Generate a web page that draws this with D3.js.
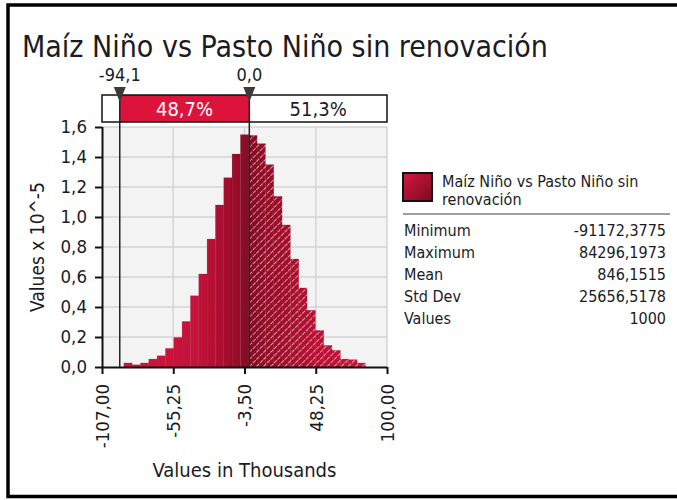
<!DOCTYPE html>
<html>
<head>
<meta charset="utf-8">
<script src="https://cdn.jsdelivr.net/npm/d3@7/dist/d3.min.js"></script>
<style>
  html, body { margin: 0; padding: 0; background: #fff; }
  svg { display: block; }
  text { font-family: "DejaVu Sans Condensed", "DejaVu Sans", sans-serif; fill: #1b1b24; }
</style>
</head>
<body>
<svg id="chart" width="677" height="500"></svg>
<script>
// Simulation output: Maíz Niño vs Pasto Niño sin renovación (values in thousands)
const title = "Maíz Niño vs Pasto Niño sin renovación";
const seriesName = ["Maíz Niño vs Pasto Niño sin", "renovación"];

// Histogram: 29 equal bins spanning the simulated min..max (thousands)
const minValue = -91.1723775;
const maxValue = 84.2961973;
const binCount = 29;
// Probability density of each bin, x 10^-5
const density = [
  0.027, 0.015, 0.027, 0.053, 0.075, 0.124, 0.197, 0.304, 0.475, 0.620,
  0.853, 1.080, 1.262, 1.420, 1.549, 1.544, 1.489, 1.349, 1.138, 0.947,
  0.720, 0.527, 0.378, 0.244, 0.144, 0.111, 0.053, 0.049, 0.027
];

// Delimiters and the probabilities between them
const delimiters = [-94.1, 0.0];
const delimiterLabels = ["-94,1", "0,0"];
const bandPercents = ["48,7%", "51,3%"];

// Axes
const xTicks = [-107, -55.25, -3.5, 48.25, 100];
const yTicks = [0, 0.2, 0.4, 0.6, 0.8, 1.0, 1.2, 1.4, 1.6];
const xTitle = "Values in Thousands";
const yTitle = "Values x 10^-5";

// Summary statistics
const statNames = ["Minimum", "Maximum", "Mean", "Std Dev", "Values"];
const statValues = ["-91172,3775", "84296,1973", "846,1515", "25656,5178", "1000"];

// Decimal comma, plain hyphen for negatives
const locale = d3.formatLocale({ decimal: ",", thousands: ".", grouping: [3], currency: ["", ""], minus: "-" });
const fmtX = locale.format(".2f");
const fmtY = locale.format(".1f");
const FONT = "'DejaVu Sans Condensed', 'DejaVu Sans', sans-serif";

const svg = d3.select("#chart");
const defs = svg.append("defs");

const plot = { left: 102, right: 387, top: 127, bottom: 367 };
const x = d3.scaleLinear().domain([xTicks[0], xTicks[xTicks.length - 1]]).range([plot.left, plot.right]);
const y = d3.scaleLinear().domain([0, 1.6]).range([plot.bottom, plot.top]);

const binWidth = (maxValue - minValue) / binCount;
const bins = density.map((v, i) => ({
  x0: minValue + i * binWidth,
  x1: minValue + (i + 1) * binWidth,
  v
}));

// Gradient across the bars: darkest around the 0 delimiter
const g = defs.append("linearGradient").attr("id", "barFill")
  .attr("gradientUnits", "userSpaceOnUse")
  .attr("x1", x(minValue)).attr("x2", x(maxValue)).attr("y1", 0).attr("y2", 0);
const zeroOff = (x(0) - x(minValue)) / (x(maxValue) - x(minValue));
g.append("stop").attr("offset", 0).attr("stop-color", "#d2163c");
g.append("stop").attr("offset", zeroOff * 0.6).attr("stop-color", "#c6113a");
g.append("stop").attr("offset", zeroOff).attr("stop-color", "#870b23");
g.append("stop").attr("offset", zeroOff + (1 - zeroOff) * 0.45).attr("stop-color", "#b20f30");
g.append("stop").attr("offset", 1).attr("stop-color", "#cd163b");

// Diagonal hatch for the area above the 0 delimiter
const hatch = defs.append("pattern").attr("id", "hatch")
  .attr("patternUnits", "userSpaceOnUse").attr("width", 5).attr("height", 5)
  .attr("patternTransform", "rotate(45)");
hatch.append("line").attr("x1", 0).attr("y1", 0).attr("x2", 0).attr("y2", 5)
  .attr("stroke", "#fff").attr("stroke-width", 1.3).attr("stroke-opacity", 0.9)
  .attr("stroke-dasharray", "3,1");

defs.append("clipPath").attr("id", "rightOfZero").append("rect")
  .attr("x", x(delimiters[1]) + 0.75).attr("y", plot.top)
  .attr("width", plot.right - x(delimiters[1])).attr("height", plot.bottom - plot.top);

// Legend swatch gradient
const sg = defs.append("linearGradient").attr("id", "swatchFill")
  .attr("x1", 0).attr("y1", 0).attr("x2", 1).attr("y2", 1);
sg.append("stop").attr("offset", 0).attr("stop-color", "#d4173e");
sg.append("stop").attr("offset", 1).attr("stop-color", "#7e0a20");

// Outer frame
svg.append("path").attr("d", "M 679 5 L 8 5 L 8 496.5 L 679 496.5")
  .attr("fill", "none").attr("stroke", "#000").attr("stroke-width", 3.5);

// Title
svg.append("text").attr("x", 22).attr("y", 57).attr("font-size", 30)
  .text(title);

// Plot background and grid
svg.append("rect").attr("x", plot.left).attr("y", plot.top)
  .attr("width", plot.right - plot.left).attr("height", plot.bottom - plot.top)
  .attr("fill", "#f3f3f3");
svg.append("g").selectAll("line").data(yTicks.slice(1)).join("line")
  .attr("x1", plot.left).attr("x2", plot.right)
  .attr("y1", d => y(d)).attr("y2", d => y(d))
  .attr("stroke", "#d4d4d4").attr("stroke-width", 1.5);
svg.append("g").selectAll("line").data(xTicks.slice(1)).join("line")
  .attr("x1", d => x(d)).attr("x2", d => x(d))
  .attr("y1", plot.top).attr("y2", plot.bottom)
  .attr("stroke", "#d4d4d4").attr("stroke-width", 1.5);

// Bars
svg.append("g").selectAll("rect").data(bins).join("rect")
  .attr("x", d => x(d.x0)).attr("width", d => x(d.x1) - x(d.x0))
  .attr("y", d => y(d.v)).attr("height", d => y(0) - y(d.v))
  .attr("fill", "url(#barFill)")
  .attr("stroke", "#6e0819").attr("stroke-opacity", 0.25).attr("stroke-width", 0.6);
svg.append("g").attr("clip-path", "url(#rightOfZero)")
  .selectAll("rect").data(bins).join("rect")
  .attr("x", d => x(d.x0)).attr("width", d => x(d.x1) - x(d.x0))
  .attr("y", d => y(d.v)).attr("height", d => y(0) - y(d.v))
  .attr("fill", "url(#hatch)");

// Axes
const yAxis = svg.append("g").attr("transform", `translate(${plot.left},0)`)
  .call(d3.axisLeft(y).tickValues(yTicks).tickFormat(fmtY).tickSize(7).tickPadding(8));
const xAxis = svg.append("g").attr("transform", `translate(0,${plot.bottom})`)
  .call(d3.axisBottom(x).tickValues(xTicks).tickFormat(fmtX).tickSize(7).tickPadding(8));
[yAxis, xAxis].forEach(a => {
  a.select(".domain").attr("stroke", "#111").attr("stroke-width", 2);
  a.selectAll(".tick line").attr("stroke", "#111").attr("stroke-width", 2);
  a.selectAll("text").attr("font-size", 18.5).attr("fill", "#1b1b24").attr("font-family", FONT);
});
yAxis.select(".domain").attr("d", `M0.5,${plot.top}V${plot.bottom}`);
xAxis.select(".domain").attr("d", `M${plot.left},0.5H${plot.right}`);
xAxis.selectAll(".tick text")
  .attr("transform", "rotate(-90)")
  .attr("text-anchor", "end")
  .attr("x", -17).attr("y", 0).attr("dy", "0.35em");

// Axis titles
svg.append("text").attr("x", x(-3.5)).attr("y", 477)
  .attr("text-anchor", "middle").attr("font-size", 20).text(xTitle);
svg.append("text").attr("transform", `translate(44,${(plot.top + plot.bottom) / 2}) rotate(-90)`)
  .attr("text-anchor", "middle").attr("font-size", 19).text(yTitle);

// Delimiter band above the plot
const band = { top: 95, bottom: 122 };
svg.append("rect").attr("x", plot.left).attr("y", band.top)
  .attr("width", plot.right - plot.left).attr("height", band.bottom - band.top)
  .attr("fill", "#fff");
svg.append("rect").attr("x", x(delimiters[0])).attr("y", band.top)
  .attr("width", x(delimiters[1]) - x(delimiters[0])).attr("height", band.bottom - band.top)
  .attr("fill", "#dc143c");
svg.append("rect").attr("x", plot.left).attr("y", band.top)
  .attr("width", plot.right - plot.left).attr("height", band.bottom - band.top)
  .attr("fill", "none").attr("stroke", "#111").attr("stroke-width", 1.5);
svg.append("text").attr("x", (x(delimiters[0]) + x(delimiters[1])) / 2).attr("y", band.bottom - 6)
  .attr("text-anchor", "middle").attr("font-size", 20).style("fill", "#fff").text(bandPercents[0]);
svg.append("text").attr("x", (x(delimiters[1]) + plot.right) / 2).attr("y", band.bottom - 6)
  .attr("text-anchor", "middle").attr("font-size", 20).text(bandPercents[1]);

// Delimiter lines, markers and labels
const dl = svg.append("g").selectAll("g").data(delimiters).join("g")
  .attr("transform", d => `translate(${x(d)},0)`);
dl.append("line").attr("y1", band.top).attr("y2", plot.bottom)
  .attr("stroke", "#222").attr("stroke-width", 1.5);
dl.append("path").attr("d", "M -6 87 L 6 87 L 0 102 Z").attr("fill", "#3a3a3a");
dl.append("text").attr("y", 81).attr("text-anchor", "middle").attr("font-size", 18)
  .text((d, i) => delimiterLabels[i]);

// Legend
svg.append("rect").attr("x", 403).attr("y", 173).attr("width", 29).attr("height", 28)
  .attr("fill", "url(#swatchFill)").attr("stroke", "#111").attr("stroke-width", 2);
svg.append("g").selectAll("text").data(seriesName).join("text")
  .attr("x", 442).attr("y", (d, i) => 187 + i * 18).attr("font-size", 16).text(d => d);
svg.append("line").attr("x1", 403).attr("x2", 670).attr("y1", 214).attr("y2", 214)
  .attr("stroke", "#a0a0a0").attr("stroke-width", 2);
const stats = svg.append("g").selectAll("g").data(statNames).join("g")
  .attr("transform", (d, i) => `translate(0,${236 + i * 22})`);
stats.append("text").attr("x", 404).attr("font-size", 16).text(d => d);
stats.append("text").attr("x", 666).attr("text-anchor", "end").attr("font-size", 16)
  .text((d, i) => statValues[i]);
</script>
</body>
</html>
